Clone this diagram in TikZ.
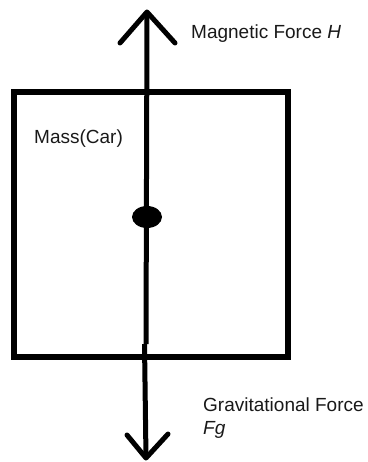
\documentclass[tikz,border=0pt]{standalone}
\usepackage{fontspec}
\setmainfont{Liberation Sans}
\usetikzlibrary{shapes.geometric}
\begin{document}
\begin{tikzpicture}[x=1pt,y=-1pt,
  thick line/.style={line width=5pt,line cap=round,line join=round},
  label text/.style={font=\fontsize{19}{23}\selectfont,text=black!90,inner sep=0pt,anchor=west,align=left}]
\useasboundingbox (0,0) rectangle (367,462);
% box
\node[draw,line width=5.5pt,minimum width=274pt,minimum height=265pt,inner sep=0pt] (box) at (151,224.5) {};
% force line
\coordinate (topTip) at (147,12);
\coordinate (topL) at (120,43);
\coordinate (topR) at (175,43);
\coordinate (midA) at (146,344);
\coordinate (midB) at (144.5,344);
\coordinate (botTip) at (146,458);
\coordinate (botL) at (127,435);
\coordinate (botR) at (168,434);
\draw[thick line,line cap=butt] (topTip) -- (midA);
\draw[thick line,line cap=butt] (midB) -- (botTip);
\draw[thick line] (topL) -- (topTip) -- (topR);
\draw[thick line] (botL) -- (botTip) -- (botR);
% centre of mass
\node[ellipse,fill=black,minimum width=30pt,minimum height=22pt,inner sep=0pt] (com) at (147,217) {};
% labels
\node[label text] (mag) at (191,34) {Magnetic Force \textit{H}};
\node[label text] (mass) at (34,139) {Mass(Car)};
\node[label text,anchor=north west] (grav) at (203,398) {Gravitational Force\\\textit{Fg}};
\end{tikzpicture}
\end{document}
